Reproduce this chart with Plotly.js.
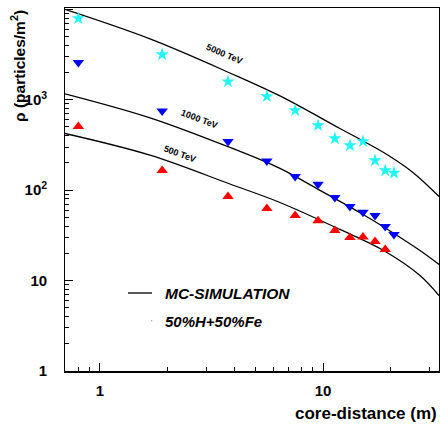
<!DOCTYPE html>
<html><head><meta charset="utf-8">
<script src="https://cdn.plot.ly/plotly-3.0.1.min.js"></script>
<style>html,body{margin:0;padding:0;background:#fff}</style>
</head><body><div id="chart" style="width:440px;height:426px"></div>
<script>
// measured points (core distance in m, density in particles/m^2)
const distance = [0.8, 1.9, 3.75, 5.6, 7.5, 9.5, 11.3, 13.2, 15.1, 17.1, 19.0, 20.8];
const rho5000 = [7930, 3170, 1590, 1090, 762, 520, 373, 312, 346, 213, 165, 155];
const rho1000 = [2590, 752, 346, 210, 142, 116, 83, 66, 57, 52.5, 39.7, 32.4];
const distance500 = [0.8, 1.9, 3.75, 5.6, 7.5, 9.5, 11.3, 13.2, 15.1, 17.1, 19.0];
const rho500 = [507, 165, 85, 62.8, 52.5, 46, 35.8, 30, 30.3, 27.1, 22.1];

// MC simulation curves
const mcDist5000 = [0.697, 1.676, 3.826, 6.41, 11.9, 15.12, 19.98, 25.3, 33.1];
const mc5000 = [9980, 4707, 1978, 1102, 481, 350, 236, 157, 85.2];
const mcDist1000 = [0.697, 1.676, 3.826, 6.41, 9.69, 15.12, 20.8, 27.2, 33.1];
const mc1000 = [1165, 632, 297, 174, 99.4, 53.8, 33.2, 21.5, 15.1];
const mcDist500 = [0.697, 1.676, 3.826, 6.41, 11.9, 19.0, 27.2, 33.1];
const mc500 = [424, 244, 117, 73.1, 36.8, 21.0, 11.4, 6.84];

const curveLabels = ['5000 TeV', '1000 TeV', '500 TeV'];
const legendLabels = ['MC-SIMULATION', '50%H+50%Fe'];

const FONT = '"Liberation Sans", Arial, Helvetica, sans-serif';
const lineStyle = {color: 'black', width: 1.3, shape: 'spline', smoothing: 1.0};

const traces = [
  {x: mcDist5000, y: mc5000, mode: 'lines', line: lineStyle, hoverinfo: 'skip'},
  {x: mcDist1000, y: mc1000, mode: 'lines', line: lineStyle, hoverinfo: 'skip'},
  {x: mcDist500, y: mc500, mode: 'lines', line: lineStyle, hoverinfo: 'skip'},
  {x: distance, y: rho5000, mode: 'markers', marker: {symbol: 'star', size: 10, color: '#22f5f5', line: {width: 0}}},
  {x: distance, y: rho1000, mode: 'markers', marker: {symbol: 'triangle-down', size: 10, color: '#0000ff', line: {width: 0}}},
  {x: distance500, y: rho500, mode: 'markers', marker: {symbol: 'triangle-up', size: 10, color: '#ff0000', line: {width: 0}}}
];

const L = Math.log10;
const px2paperX = p => (p - 65) / 374;
const px2paperY = p => (371 - p) / 363;

const axisCommon = {
  type: 'log', showgrid: false, zeroline: false,
  showline: true, linecolor: 'black', linewidth: 1.5, mirror: true,
  ticks: 'inside', ticklen: 8, tickwidth: 1, tickcolor: 'black',
  dtick: 1, exponentformat: 'power',
  minor: {ticks: 'inside', ticklen: 4, tickwidth: 1, tickcolor: 'black', dtick: 'D1', showgrid: false},
  tickfont: {family: FONT, size: 12, color: 'black', weight: 'bold'}
};

const layout = {
  width: 440, height: 426,
  margin: {l: 65, r: 1, t: 8, b: 55},
  paper_bgcolor: 'white', plot_bgcolor: 'white',
  showlegend: false,
  xaxis: Object.assign({}, axisCommon, {range: [L(0.697), L(33.1)], ticklabelstandoff: 6}),
  yaxis: Object.assign({}, axisCommon, {range: [0, 4.015], ticklabelstandoff: 14}),
  shapes: [
    {type: 'line', xref: 'paper', yref: 'paper', x0: px2paperX(128), x1: px2paperX(152), y0: px2paperY(293), y1: px2paperY(293), line: {color: 'black', width: 1.3}},
    {type: 'circle', xref: 'paper', yref: 'paper', x0: px2paperX(151), x1: px2paperX(152.3), y0: px2paperY(320), y1: px2paperY(321.3), line: {width: 0}, fillcolor: '#999'}
  ],
  annotations: [
    {x: L(3.60), y: 3.501, text: curveLabels[0], showarrow: false, textangle: 23, font: {family: FONT, size: 9, color: 'black', weight: 'bold'}},
    {x: L(2.78), y: 2.782, text: curveLabels[1], showarrow: false, textangle: 21, font: {family: FONT, size: 9, color: 'black', weight: 'bold'}},
    {x: L(2.28), y: 2.395, text: curveLabels[2], showarrow: false, textangle: 20, font: {family: FONT, size: 9, color: 'black', weight: 'bold'}},
    {xref: 'paper', yref: 'paper', x: px2paperX(163), y: px2paperY(293), xanchor: 'left', yanchor: 'middle', text: legendLabels[0], showarrow: false, font: {family: FONT, size: 15.5, color: 'black', weight: 'bold', style: 'italic'}},
    {xref: 'paper', yref: 'paper', x: px2paperX(163), y: px2paperY(321), xanchor: 'left', yanchor: 'middle', text: legendLabels[1], showarrow: false, font: {family: FONT, size: 15, color: 'black', weight: 'bold', style: 'italic'}},
    {xref: 'paper', yref: 'paper', x: px2paperX(439), y: px2paperY(413), xanchor: 'right', yanchor: 'middle', text: 'core-distance (m)', showarrow: false, font: {family: FONT, size: 17, color: 'black', weight: 'bold'}},
    {xref: 'paper', yref: 'paper', x: px2paperX(18), y: px2paperY(66), xanchor: 'center', yanchor: 'middle', textangle: -90, text: 'ρ (particles/m<sup>2</sup>)', showarrow: false, font: {family: FONT, size: 15.5, color: 'black', weight: 'bold'}}
  ]
};

Plotly.newPlot('chart', traces, layout, {displayModeBar: false, staticPlot: true});
</script>
</body></html>
